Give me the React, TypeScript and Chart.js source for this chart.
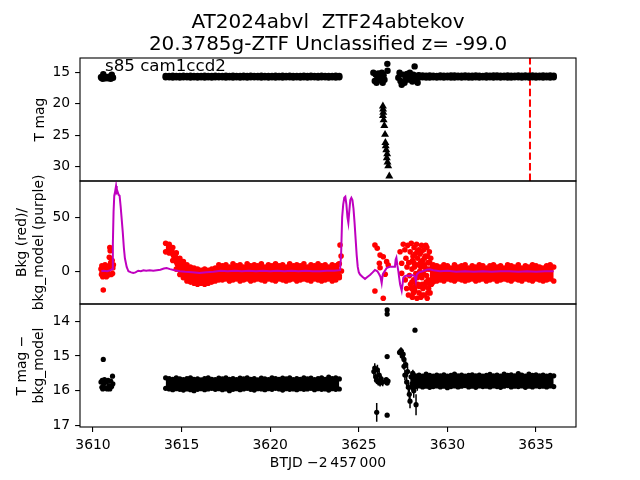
import React, { useEffect, useRef } from "react";
import { Chart, registerables } from "chart.js";
Chart.register(...registerables);

// ------------------------- data -------------------------
const TITLE_LINES = ["AT2024abvl  ZTF24abtekov", "20.3785g-ZTF Unclassified z= -99.0"];
const SECTOR_TEXT = "s85 cam1ccd2";
const Y_LABEL_TOP = ["T mag"];
const Y_LABEL_MID = ["Bkg (red)/", "bkg_model (purple)"];
const Y_LABEL_BOT = ["T mag \u2212", "bkg_model"];
const X_LABEL = "BTJD \u22122\u2009457\u2009000";

const X_MIN = 3609.266;
const X_MAX = 3637.257;
const X_TICKS = [3610, 3615, 3620, 3625, 3630, 3635];
const MAG_MIN = 12.77, MAG_MAX = 32.27;
const MAG_TICKS = [15, 20, 25, 30];
const BKG_MIN = -30.3, BKG_MAX = 83.6;
const BKG_TICKS = [0, 50];
const DEV_MIN = 13.51, DEV_MAX = 17.04;
const DEV_TICKS = [14, 15, 16, 17];
const ALERT_T = 3634.66;

// cadence of the dense stretches (start, step in days)
const BAND1_START = 3614.1;
const MAG_B2_START = 3628.4;
const RED_B2_START = 3629.0;
const DEV_B2_START = 3628.0;
const STEP = 0.2;

// T mag: upper / lower edge of the scatter
const magB1Hi = [
  15.6, 15.62, 15.58, 15.61, 15.63, 15.59, 15.62, 15.58, 15.62, 15.6,
  15.63, 15.59, 15.61, 15.62, 15.58, 15.6, 15.63, 15.59, 15.62, 15.58,
  15.61, 15.63, 15.59, 15.62, 15.58, 15.61, 15.63, 15.58, 15.62, 15.6,
  15.63, 15.59, 15.62, 15.59, 15.61, 15.58, 15.63, 15.6, 15.62, 15.59,
  15.63, 15.59, 15.61, 15.62, 15.58, 15.62, 15.6, 15.63, 15.59, 15.61,
];
const magB1Lo = [
  15.84, 15.82, 15.86, 15.83, 15.87, 15.81, 15.84, 15.86, 15.83, 15.85,
  15.81, 15.86, 15.83, 15.87, 15.82, 15.84, 15.83, 15.86, 15.81, 15.85,
  15.83, 15.86, 15.82, 15.87, 15.83, 15.84, 15.81, 15.86, 15.83, 15.86,
  15.82, 15.85, 15.83, 15.87, 15.81, 15.84, 15.86, 15.83, 15.85, 15.82,
  15.86, 15.83, 15.81, 15.86, 15.83, 15.84, 15.87, 15.82, 15.85, 15.83,
];
const magB2Hi = [
  15.56, 15.53, 15.58, 15.55, 15.57, 15.6, 15.54, 15.56, 15.59, 15.55,
  15.53, 15.58, 15.56, 15.55, 15.59, 15.57, 15.54, 15.56, 15.6, 15.55,
  15.58, 15.55, 15.53, 15.57, 15.59, 15.55, 15.56, 15.58, 15.54, 15.57,
  15.55, 15.59, 15.53, 15.56, 15.58, 15.55, 15.57, 15.55, 15.58,
];
const magB2Lo = [
  15.86, 15.83, 15.85, 15.88, 15.82, 15.86, 15.84, 15.87, 15.81, 15.85,
  15.86, 15.83, 15.86, 15.82, 15.85, 15.87, 15.83, 15.85, 15.81, 15.86,
  15.84, 15.86, 15.82, 15.87, 15.83, 15.85, 15.86, 15.81, 15.84, 15.86,
  15.83, 15.87, 15.82, 15.85, 15.84, 15.86, 15.83, 15.85, 15.82,
];
// sparse T mag detections [t, mag]
const magSparse = [
  [3610.45, 15.8], [3610.48, 15.95], [3610.52, 15.75], [3610.55, 16.05], [3610.58, 15.35],
  [3610.6, 15.85], [3610.65, 15.7], [3610.7, 16.0], [3610.75, 15.8], [3610.8, 15.9],
  [3610.85, 16.0], [3610.9, 15.75], [3610.95, 15.9], [3611.0, 16.05], [3611.06, 15.4],
  [3611.1, 15.8], [3611.13, 15.9],
  [3625.82, 15.1], [3625.9, 16.4], [3625.95, 15.4], [3626.0, 16.7], [3626.05, 15.9],
  [3626.1, 15.2], [3626.15, 16.3], [3626.2, 15.6], [3626.25, 16.0], [3626.3, 15.1],
  [3626.35, 16.7], [3626.4, 15.5], [3626.45, 16.2], [3626.61, 13.7], [3626.62, 14.8],
  [3627.23, 15.9], [3627.3, 15.1], [3627.35, 16.4], [3627.42, 17.0], [3627.5, 15.4],
  [3627.58, 16.7], [3627.65, 15.9], [3627.72, 15.3], [3627.8, 16.2], [3627.88, 15.1],
  [3627.95, 15.7], [3628.02, 16.5], [3628.08, 15.4], [3628.15, 14.1], [3628.2, 15.9],
  [3628.27, 15.6], [3628.32, 16.7], [3628.38, 15.5],
];
// upper limits [t, mag]
const magLimits = [
  [3626.36, 20.4], [3626.37, 20.9], [3626.38, 21.4], [3626.36, 21.9], [3626.4, 22.6],
  [3626.44, 23.5], [3626.48, 24.9], [3626.5, 26.2], [3626.52, 26.7], [3626.55, 27.35],
  [3626.6, 28.0], [3626.58, 28.6], [3626.62, 29.3], [3626.66, 29.9], [3626.72, 31.5],
];

// background: upper / lower edge of the red scatter
const redB1Hi = [
  26, 25, 22, 17, 12, 9, 6, 4, 3, 2,
  1, 2, 1, 2, 3, 6, 5, 6, 4, 7,
  5, 6, 4, 7, 5, 6, 5, 7, 4, 6,
  5, 7, 5, 6, 4, 7, 5, 6, 5, 7,
  4, 6, 5, 7, 5, 6, 4, 6, 5, 7,
];
const redB1Lo = [
  18, 17, 10, 2, -3, -6, -9, -10, -11, -12,
  -11, -12, -11, -10, -9, -8, -8, -7, -9, -8,
  -7, -9, -8, -7, -9, -8, -7, -8, -9, -7,
  -8, -9, -7, -8, -9, -8, -7, -9, -8, -7,
  -8, -9, -7, -8, -9, -8, -7, -9, -8, -6,
];
const redB2Hi = [
  8, 6, 5, 4, 6, 5, 3, 6, 4, 5,
  6, 3, 5, 4, 6, 5, 3, 5, 6, 4,
  5, 3, 6, 5, 4, 6, 3, 5, 4, 6,
  5, 4, 3, 5, 6, 4,
];
const redB2Lo = [
  -12, -10, -9, -8, -9, -7, -8, -9, -7, -8,
  -9, -8, -7, -9, -8, -7, -9, -8, -7, -9,
  -8, -7, -8, -9, -7, -8, -9, -7, -8, -9,
  -7, -8, -9, -8, -7, -9,
];
const redSparse = [
  [3610.45, 2], [3610.48, -3], [3610.5, 5], [3610.52, -1], [3610.55, -5], [3610.58, -17.3],
  [3610.6, 3], [3610.62, -4], [3610.65, 1], [3610.68, 6], [3610.7, -3], [3610.72, 2],
  [3610.75, -5], [3610.78, 4], [3610.8, 0], [3610.82, -4], [3610.85, 3], [3610.88, -2],
  [3610.9, 5], [3610.92, 13], [3610.95, 22], [3610.97, 19], [3611.0, 8], [3611.02, -3],
  [3611.05, 4], [3611.08, 10], [3611.1, -2], [3611.12, 3], [3611.15, 6],
  [3623.94, 24.3], [3624.0, 14.2], [3623.85, 6.5], [3624.02, 0.3], [3623.9, -4.3], [3623.8, -1.2],
  [3625.91, 24.3], [3626.04, 21.3], [3626.2, 15], [3626.38, 13.5], [3626.16, 7.4], [3626.57, 8.9],
  [3626.66, 5.8], [3625.91, -18.2], [3626.38, -25], [3626.2, 3.3], [3626.49, -2.8],
  [3627.33, 18.1], [3627.51, 25], [3627.42, 7.4], [3627.42, -1.9],
  [3627.6, 20], [3627.62, -8], [3627.66, 12], [3627.7, -16], [3627.72, 4], [3627.76, 24],
  [3627.8, -22], [3627.82, 8], [3627.86, -4], [3627.9, 18], [3627.92, -12], [3627.96, 26],
  [3628.0, 2], [3628.02, -24], [3628.06, 14], [3628.1, -8], [3628.12, 22], [3628.16, -18],
  [3628.2, 6], [3628.22, -2], [3628.26, 25], [3628.28, -25], [3628.32, 12], [3628.34, -12],
  [3628.38, 20], [3628.4, -20], [3628.44, 0], [3628.46, 16], [3628.5, -24], [3628.54, 24],
  [3628.56, -6], [3628.6, 10], [3628.62, -16], [3628.66, 20], [3628.7, -22], [3628.72, 4],
  [3628.76, 14], [3628.8, -10], [3628.84, 22], [3628.86, -25], [3628.9, 8], [3628.94, -16],
  [3628.98, 18], [3629.02, -20], [3629.06, 12], [3629.1, -12],
  [3627.98, -16], [3628.04, 10], [3628.08, -20], [3628.14, 4], [3628.18, 16], [3628.24, -12],
  [3628.3, -6], [3628.36, 6], [3628.42, -14], [3628.48, 8], [3628.52, 18], [3628.58, -12],
  [3628.64, -2], [3628.68, 6], [3628.74, -14], [3628.78, 24], [3628.82, -4], [3628.88, 14],
  [3628.92, -8], [3628.96, 2], [3628.0, -10], [3628.1, 8], [3628.2, -14], [3628.3, 18],
  [3628.4, -4], [3628.5, 4], [3628.6, -22], [3628.7, 12], [3628.8, 2], [3628.9, -20],
];
// background model (purple) [t, value]
const bkgModel = [
  [3610.47, 0], [3610.6, 0.5], [3610.8, 0], [3611.0, 1], [3611.08, 2], [3611.12, 25],
  [3611.16, 55], [3611.2, 70], [3611.25, 74], [3611.3, 79], [3611.34, 73], [3611.38, 74],
  [3611.44, 71], [3611.5, 70], [3611.56, 60], [3611.62, 48], [3611.68, 36], [3611.74, 22],
  [3611.8, 12], [3611.9, 4], [3612.0, 0], [3612.15, -1], [3612.27, -1.5], [3612.4, -1],
  [3612.55, 0.5], [3612.7, 0], [3612.85, 1], [3613.0, 0.5], [3613.2, 1], [3613.4, 0.5],
  [3613.6, 1], [3613.8, 1.5], [3614.0, 2.5], [3614.15, 3], [3614.35, 2], [3614.6, 1],
  [3614.9, 0], [3615.2, -0.5], [3615.6, -1], [3616.0, -1.5], [3616.4, -1], [3616.8, -0.5],
  [3617.2, 0.5], [3617.6, 0], [3618.0, 0.5], [3618.4, 0], [3618.8, 0.5], [3619.2, 0],
  [3619.6, 0.5], [3620.0, 0], [3620.4, 0.5], [3620.8, 0], [3621.2, 0.5], [3621.6, 0],
  [3622.0, 0.5], [3622.4, 0], [3622.8, 0], [3623.2, 0.5], [3623.6, 0.5], [3623.94, 1],
  [3624.0, 15], [3624.06, 50], [3624.12, 62], [3624.18, 68], [3624.24, 69], [3624.3, 62],
  [3624.36, 50], [3624.41, 45], [3624.46, 55], [3624.52, 66], [3624.58, 68], [3624.64, 66],
  [3624.7, 58], [3624.76, 45], [3624.82, 30], [3624.88, 15], [3624.94, 4], [3625.0, -1],
  [3625.07, -3], [3625.2, -5], [3625.35, -7], [3625.5, -5], [3625.63, -3.4], [3625.78, -1],
  [3625.91, 1.2], [3626.05, 0], [3626.15, -2.8], [3626.22, -5], [3626.29, -11], [3626.35, -3],
  [3626.42, -1], [3626.57, 3], [3626.76, 4.3], [3627.04, 4.3], [3627.08, 11], [3627.12, 12.6],
  [3627.18, 5], [3627.23, 0.3], [3627.28, -6], [3627.33, -12], [3627.42, -18], [3627.47, -12],
  [3627.51, -6], [3627.6, -4.5], [3627.7, -4], [3627.85, -4.3], [3627.99, -3.5], [3628.1, -4],
  [3628.17, -5], [3628.22, -9], [3628.27, -3], [3628.4, -1], [3628.64, 0.3], [3628.83, 1.5],
  [3629.0, 1.8], [3629.2, 1], [3629.58, 0], [3630.0, 0.5], [3630.5, -0.5], [3631.0, 0],
  [3631.5, -0.5], [3632.0, 0], [3632.5, -0.5], [3633.0, 0], [3633.5, 0], [3634.0, -0.5],
  [3634.5, 0], [3635.0, -0.5], [3635.5, 0], [3636.0, 0],
];

// T mag - bkg_model: band edges
const devB1Hi = [
  15.63, 15.65, 15.67, 15.63, 15.66, 15.68, 15.65, 15.63, 15.67, 15.66,
  15.69, 15.65, 15.63, 15.67, 15.68, 15.64, 15.66, 15.63, 15.67, 15.65,
  15.68, 15.64, 15.66, 15.63, 15.67, 15.65, 15.69, 15.64, 15.66, 15.68,
  15.63, 15.65, 15.67, 15.64, 15.66, 15.63, 15.68, 15.65, 15.67, 15.63,
  15.66, 15.64, 15.68, 15.65, 15.63, 15.67, 15.61, 15.65, 15.63, 15.66,
];
const devB1Lo = [
  15.93, 15.95, 15.97, 15.94, 15.96, 15.98, 15.95, 15.97, 16.0, 15.96,
  15.94, 15.97, 15.95, 15.93, 15.96, 15.94, 15.97, 15.95, 16.0, 15.96,
  15.94, 15.97, 15.95, 15.93, 15.96, 15.98, 15.94, 15.95, 15.97, 15.94,
  15.96, 15.93, 15.95, 15.98, 15.94, 15.96, 15.95, 15.97, 15.94, 15.96,
  15.95, 15.93, 15.97, 15.94, 15.96, 15.95, 15.98, 15.94, 15.96, 15.95,
];
const devB2Hi = [
  15.6, 15.57, 15.55, 15.58, 15.52, 15.56, 15.58, 15.55, 15.57, 15.54,
  15.58, 15.56, 15.52, 15.57, 15.55, 15.58, 15.56, 15.54, 15.57, 15.55,
  15.58, 15.56, 15.53, 15.57, 15.55, 15.58, 15.52, 15.56, 15.54, 15.57,
  15.51, 15.55, 15.58, 15.52, 15.56, 15.54, 15.57, 15.55, 15.58, 15.56, 15.57,
];
const devB2Lo = [
  15.9, 15.88, 15.86, 15.89, 15.87, 15.9, 15.88, 15.86, 15.89, 15.87,
  15.91, 15.88, 15.86, 15.89, 15.87, 15.85, 15.89, 15.87, 15.9, 15.86,
  15.88, 15.87, 15.89, 15.86, 15.88, 15.9, 15.87, 15.85, 15.89, 15.87,
  15.88, 15.86, 15.9, 15.87, 15.89, 15.86, 15.88, 15.87, 15.89, 15.86, 15.88,
];
// sparse points [t, mag, err]
const devSparse = [
  [3610.45, 15.75, 0.02], [3610.5, 15.9, 0.02], [3610.52, 15.7, 0.02], [3610.55, 15.95, 0.02],
  [3610.58, 15.1, 0.02], [3610.6, 15.8, 0.02], [3610.65, 15.68, 0.02], [3610.7, 15.92, 0.02],
  [3610.75, 15.75, 0.02], [3610.8, 15.95, 0.02], [3610.85, 15.7, 0.02], [3610.9, 15.85, 0.02],
  [3610.95, 15.95, 0.02], [3611.0, 15.72, 0.02], [3611.05, 15.88, 0.02], [3611.1, 15.58, 0.02],
  [3611.12, 15.8, 0.02],
  [3625.85, 15.45, 0.12], [3625.9, 15.35, 0.14], [3625.95, 15.6, 0.1], [3626.0, 15.7, 0.1],
  [3626.05, 15.4, 0.15], [3626.1, 15.75, 0.1], [3626.15, 15.55, 0.12], [3626.2, 15.78, 0.1],
  [3626.25, 15.65, 0.1], [3626.35, 15.75, 0.12], [3626.01, 16.62, 0.27],
  [3626.55, 15.68, 0.05], [3626.6, 15.78, 0.05], [3626.65, 15.72, 0.05],
  [3626.6, 15.02, 0.03], [3626.6, 13.68, 0.03], [3626.6, 13.8, 0.03], [3626.6, 16.7, 0.03],
  [3627.3, 14.9, 0.08], [3627.38, 14.85, 0.1], [3627.45, 15.0, 0.1], [3627.5, 14.95, 0.12],
  [3627.55, 15.1, 0.1], [3628.17, 14.26, 0.02],
  [3627.55, 15.3, 0.1], [3627.6, 15.55, 0.15], [3627.65, 15.25, 0.1], [3627.7, 15.75, 0.2],
  [3627.75, 15.45, 0.15], [3627.8, 15.9, 0.2], [3627.85, 16.1, 0.2], [3627.89, 16.3, 0.2],
  [3627.95, 15.6, 0.15], [3628.0, 15.8, 0.2], [3628.05, 15.5, 0.1], [3628.1, 16.0, 0.2],
  [3628.15, 15.7, 0.15], [3628.23, 16.4, 0.3], [3628.3, 15.85, 0.15], [3628.35, 15.65, 0.1],
];

// ------------------------- layout / style -------------------------
const FIG_W = 640, FIG_H = 480;
const AX_LEFT = 80, AX_RIGHT = 576;
const EDGES = [58, 181, 304, 427];
const X_AXIS_H = 30;
const FONT = '"DejaVu Sans", sans-serif';
const TICK_PX = 13.9;
const BLACK = "#000000", RED = "#ff0000", PURPLE = "#bf00bf";

const grid = (start: number, vals: number[]) =>
  vals.map((y, i) => ({ x: Math.round((start + STEP * i) * 1000) / 1000, y }));
const pts = (a: number[][]) => a.map((p) => ({ x: p[0], y: p[1] }));

function dots(data: any[], color: string, r: number, extra: any = {}) {
  return {
    data, showLine: false, pointRadius: r, pointHoverRadius: r,
    pointBackgroundColor: color, pointBorderWidth: 0, pointBorderColor: color,
    borderColor: "rgba(0,0,0,0)", clip: 0, order: 2, ...extra,
  };
}
function band(hi: any[], lo: any[], color: string, r: number) {
  const common = { type: "line", showLine: true, borderWidth: 0, tension: 0 };
  return [
    { ...dots(hi, color, r), ...common, fill: false },
    { ...dots(lo, color, r), ...common, fill: "-1", backgroundColor: color },
  ];
}

function yScale(min: number, max: number, ticks: number[], reverse: boolean) {
  return {
    type: "linear", min, max, reverse,
    afterFit: (s: any) => { s.width = AX_LEFT; },
    afterBuildTicks: (s: any) => { s.ticks = ticks.map((v) => ({ value: v })); },
    ticks: { font: { family: FONT, size: TICK_PX }, color: BLACK, padding: 4.9, autoSkip: false, callback: (v: any) => String(v) },
    grid: { drawOnChartArea: false, drawTicks: true, tickLength: 4.9, color: BLACK, lineWidth: 1.1 },
    border: { display: false },
  };
}
function xScale(show: boolean) {
  return {
    type: "linear", min: X_MIN, max: X_MAX, display: show,
    afterFit: (s: any) => { s.height = show ? X_AXIS_H : 0; },
    afterBuildTicks: (s: any) => { s.ticks = X_TICKS.map((v) => ({ value: v })); },
    ticks: { font: { family: FONT, size: TICK_PX }, color: BLACK, padding: 4.9, maxRotation: 0, autoSkip: false, callback: (v: any) => String(v) },
    grid: { drawOnChartArea: false, drawTicks: true, tickLength: 4.9, color: BLACK, lineWidth: 1.1 },
    border: { display: false },
  };
}

function rotatedLines(ctx: CanvasRenderingContext2D, lines: string[], cxLast: number, cy: number) {
  const lh = TICK_PX * 1.2;
  ctx.save();
  ctx.font = `${TICK_PX}px ${FONT}`;
  ctx.fillStyle = BLACK;
  ctx.textAlign = "center";
  ctx.textBaseline = "middle";
  lines.forEach((ln, i) => {
    const cx = cxLast - (lines.length - 1 - i) * lh;
    ctx.save();
    ctx.translate(cx, cy);
    ctx.rotate(-Math.PI / 2);
    ctx.fillText(ln, 0, 0);
    ctx.restore();
  });
  ctx.restore();
}

const framePlugin = {
  id: "frame",
  afterDatasetsDraw(chart: any) {
    const { ctx, chartArea: a } = chart;
    ctx.save();
    ctx.strokeStyle = BLACK;
    ctx.lineWidth = 1.1;
    ctx.strokeRect(a.left, a.top, a.right - a.left, a.bottom - a.top);
    ctx.restore();
  },
};

const errorBarPlugin = {
  id: "errbars",
  beforeDatasetsDraw(chart: any) {
    const { ctx, chartArea: a, scales } = chart;
    ctx.save();
    ctx.beginPath();
    ctx.rect(a.left, a.top, a.right - a.left, a.bottom - a.top);
    ctx.clip();
    ctx.strokeStyle = BLACK;
    ctx.lineWidth = 1.5;
    chart.data.datasets.forEach((ds: any) => {
      if (!ds.errs) return;
      ctx.beginPath();
      ds.data.forEach((p: any, i: number) => {
        const e = ds.errs[i];
        const px = scales.x.getPixelForValue(p.x);
        ctx.moveTo(px, scales.y.getPixelForValue(p.y - e));
        ctx.lineTo(px, scales.y.getPixelForValue(p.y + e));
      });
      ctx.stroke();
    });
    ctx.restore();
  },
};

function baseOptions(top: number, bottom: number, y: any, showX: boolean) {
  return {
    responsive: false, animation: false, devicePixelRatio: 1, events: [],
    layout: { padding: { left: 0, right: FIG_W - AX_RIGHT, top, bottom } },
    plugins: { legend: { display: false }, tooltip: { enabled: false }, filler: { propagate: false } },
    scales: { x: xScale(showX), y },
  };
}

function topConfig(): any {
  const textPlugin = {
    id: "topText",
    beforeDatasetsDraw(chart: any) {
      const { ctx, chartArea: a, scales } = chart;
      const px = scales.x.getPixelForValue(ALERT_T);
      ctx.save();
      ctx.strokeStyle = RED;
      ctx.lineWidth = 2;
      ctx.setLineDash([7.4, 3.2]);
      ctx.beginPath();
      ctx.moveTo(px, a.bottom);
      ctx.lineTo(px, a.top);
      ctx.stroke();
      ctx.restore();
    },
    afterDraw(chart: any) {
      const { ctx, chartArea: a } = chart;
      const cx = (a.left + a.right) / 2;
      ctx.save();
      ctx.fillStyle = BLACK;
      ctx.textAlign = "center";
      ctx.textBaseline = "alphabetic";
      ctx.font = `20px ${FONT}`;
      ctx.fillText(TITLE_LINES[0], cx, 28);
      ctx.fillText(TITLE_LINES[1], cx, 50);
      ctx.textAlign = "left";
      ctx.font = `16.67px ${FONT}`;
      ctx.fillText(SECTOR_TEXT, 105, 71);
      ctx.restore();
      rotatedLines(ctx, Y_LABEL_TOP, 40, (a.top + a.bottom) / 2);
    },
  };
  return {
    type: "scatter",
    data: {
      datasets: [
        ...band(grid(BAND1_START, magB1Hi), grid(BAND1_START, magB1Lo), BLACK, 3.2),
        ...band(grid(MAG_B2_START, magB2Hi), grid(MAG_B2_START, magB2Lo), BLACK, 3.2),
        dots(pts(magSparse), BLACK, 3.2),
        dots(pts(magLimits), BLACK, 4.6, { pointStyle: "triangle" }),
      ],
    },
    options: baseOptions(EDGES[0], FIG_H - EDGES[1], yScale(MAG_MIN, MAG_MAX, MAG_TICKS, true), false),
    plugins: [textPlugin, framePlugin],
  };
}

function midConfig(): any {
  const textPlugin = {
    id: "midText",
    afterDraw(chart: any) {
      const { ctx, chartArea: a } = chart;
      rotatedLines(ctx, Y_LABEL_MID, 39, (a.top + a.bottom) / 2);
    },
  };
  return {
    type: "scatter",
    data: {
      datasets: [
        {
          data: pts(bkgModel), showLine: true, borderColor: PURPLE, borderWidth: 2,
          pointRadius: 0, fill: false, clip: 0, order: 0,
        },
        ...band(grid(BAND1_START, redB1Hi), grid(BAND1_START, redB1Lo), RED, 2.8),
        ...band(grid(RED_B2_START, redB2Hi), grid(RED_B2_START, redB2Lo), RED, 2.8),
        dots(pts(redSparse), RED, 2.8),
      ],
    },
    options: baseOptions(EDGES[1], FIG_H - EDGES[2], yScale(BKG_MIN, BKG_MAX, BKG_TICKS, false), false),
    plugins: [textPlugin, framePlugin],
  };
}

function botConfig(): any {
  const textPlugin = {
    id: "botText",
    afterDraw(chart: any) {
      const { ctx, chartArea: a } = chart;
      rotatedLines(ctx, Y_LABEL_BOT, 39, (a.top + a.bottom) / 2);
      ctx.save();
      ctx.fillStyle = BLACK;
      ctx.font = `${TICK_PX}px ${FONT}`;
      ctx.textAlign = "center";
      ctx.textBaseline = "middle";
      ctx.fillText(X_LABEL, (a.left + a.right) / 2, 463);
      ctx.restore();
    },
  };
  return {
    type: "scatter",
    data: {
      datasets: [
        ...band(grid(BAND1_START, devB1Hi), grid(BAND1_START, devB1Lo), BLACK, 2.6),
        ...band(grid(DEV_B2_START, devB2Hi), grid(DEV_B2_START, devB2Lo), BLACK, 2.6),
        { ...dots(pts(devSparse), BLACK, 2.6), errs: devSparse.map((p) => p[2]) },
      ],
    },
    options: baseOptions(EDGES[2], FIG_H - EDGES[3] - X_AXIS_H, yScale(DEV_MIN, DEV_MAX, DEV_TICKS, true), true),
    plugins: [textPlugin, errorBarPlugin, framePlugin],
  };
}

export default function App() {
  const r1 = useRef<HTMLCanvasElement>(null);
  const r2 = useRef<HTMLCanvasElement>(null);
  const r3 = useRef<HTMLCanvasElement>(null);
  useEffect(() => {
    const charts = [
      new Chart(r1.current as HTMLCanvasElement, topConfig()),
      new Chart(r2.current as HTMLCanvasElement, midConfig()),
      new Chart(r3.current as HTMLCanvasElement, botConfig()),
    ];
    // second pass so the filler sees the resolved line options
    charts.forEach((c) => c.update("none"));
    return () => charts.forEach((c) => c.destroy());
  }, []);
  const cs: React.CSSProperties = { position: "absolute", left: 0, top: 0, width: FIG_W, height: FIG_H };
  return (
    <div style={{ position: "absolute", left: 0, top: 0, width: FIG_W, height: FIG_H, background: "#fff" }}>
      <canvas ref={r1} width={FIG_W} height={FIG_H} style={cs} />
      <canvas ref={r2} width={FIG_W} height={FIG_H} style={cs} />
      <canvas ref={r3} width={FIG_W} height={FIG_H} style={cs} />
    </div>
  );
}
